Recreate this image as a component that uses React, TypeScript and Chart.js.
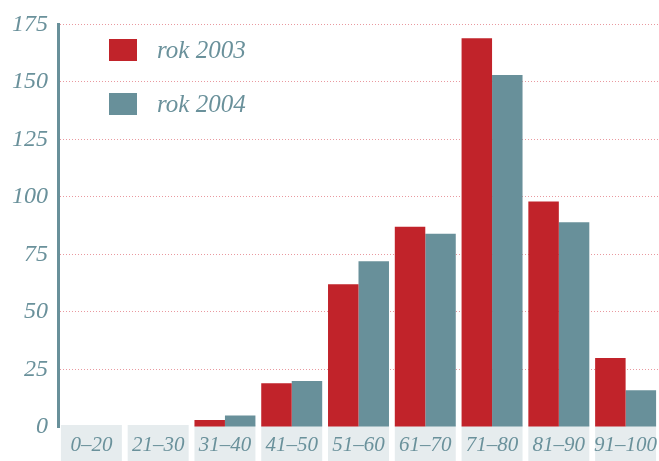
import React, { useEffect, useRef } from "react";
import { Chart, registerables } from "chart.js";

Chart.register(...registerables);

const categories = ["0–20", "21–30", "31–40", "41–50", "51–60", "61–70", "71–80", "81–90", "91–100"];
const series2003 = [0, 0, 3, 19, 62, 87, 169, 98, 30];
const series2004 = [0, 0, 5, 20, 72, 84, 153, 89, 16];
const seriesLabels = ["rok 2003", "rok 2004"];
const yTicks = [0, 25, 50, 75, 100, 125, 150, 175];

const RED = "#c1232a";
const TEAL = "#68909a";
const TEXT = "#6a919b";
const BOX = "#e6ecee";
const FONT = "'Liberation Serif', 'DejaVu Serif', serif";

const boxesPlugin = {
  id: "catBoxes",
  beforeDraw(chart: any) {
    const { ctx, chartArea, scales } = chart;
    const x = scales.x;
    const step = (chartArea.right - chartArea.left) / categories.length;
    const w = step * 0.913;
    ctx.save();
    ctx.fillStyle = BOX;
    categories.forEach((_, i) => {
      const cx = x.getPixelForValue(i);
      ctx.fillRect(cx - w / 2, chartArea.bottom - 2, w, chart.height - chartArea.bottom + 2);
    });
    ctx.restore();
  },
};

const legendPlugin = {
  id: "customLegend",
  afterDraw(chart: any) {
    const { ctx } = chart;
    ctx.save();
    const rows = [50, 104];
    chart.data.datasets.forEach((ds: any, i: number) => {
      const cy = rows[i];
      ctx.fillStyle = ds.backgroundColor;
      ctx.fillRect(109, cy - 11, 28, 22);
      ctx.fillStyle = TEXT;
      ctx.font = `italic 25px ${FONT}`;
      ctx.textBaseline = "middle";
      ctx.textAlign = "left";
      ctx.fillText(ds.label, 157, cy + 1);
    });
    ctx.restore();
  },
};

export default function App() {
  const ref = useRef<HTMLCanvasElement | null>(null);

  useEffect(() => {
    document.body.style.margin = "0";
    if (!ref.current) return;
    const chart = new Chart(ref.current, {
      type: "bar",
      data: {
        labels: categories,
        datasets: [
          { label: seriesLabels[0], data: series2003, backgroundColor: RED, borderWidth: 0 },
          { label: seriesLabels[1], data: series2004, backgroundColor: TEAL, borderWidth: 0 },
        ],
      },
      options: {
        animation: false,
        responsive: true,
        maintainAspectRatio: false,
        layout: { padding: { top: 22, right: 0, left: 0, bottom: 0 } },
        datasets: { bar: { categoryPercentage: 0.913, barPercentage: 1 } },
        plugins: { legend: { display: false }, tooltip: { enabled: false } },
        scales: {
          x: {
            grid: { display: false, drawTicks: false },
            border: { display: false },
            ticks: {
              color: TEXT,
              font: { family: FONT, size: 21, style: "italic" },
              padding: 6,
              maxRotation: 0,
              autoSkip: false,
            },
            afterFit: (s: any) => {
              s.height = 34;
              s.paddingRight = 0;
              s.paddingLeft = 0;
            },
          },
          y: {
            min: 0,
            max: 175,
            afterBuildTicks: (s: any) => {
              s.ticks = yTicks.map((v) => ({ value: v }));
            },
            grid: {
              drawTicks: false,
              color: (c: any) => (c.tick && c.tick.value === 0 ? "rgba(0,0,0,0)" : "rgba(215,70,80,0.55)"),
              lineWidth: 1,
            },
            border: { display: true, color: TEAL, width: 3, dash: [1, 2] as any },
            ticks: {
              color: TEXT,
              font: { family: FONT, size: 24, style: "italic" },
              padding: 10,
            },
            afterFit: (s: any) => {
              s.width = 58;
            },
          },
        },
      },
      plugins: [boxesPlugin, legendPlugin],
    });
    return () => chart.destroy();
  }, []);

  return (
    <div style={{ position: "fixed", left: 0, top: 0, width: 659, height: 461 }}>
      <canvas ref={ref} />
    </div>
  );
}
